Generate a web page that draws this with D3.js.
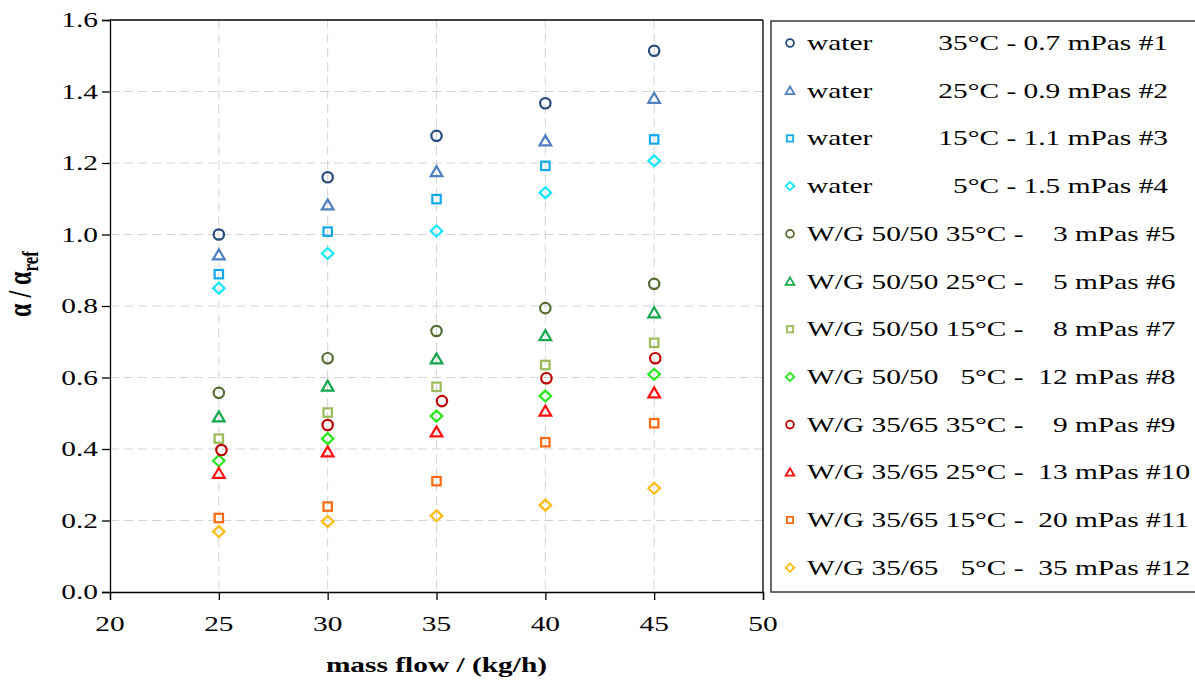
<!DOCTYPE html>
<html>
<head>
<meta charset="utf-8">
<script src="https://cdn.jsdelivr.net/npm/d3@7"></script>
<style>
  body { margin: 0; background: #fff; }
  text { font-family: "Liberation Serif", "Times New Roman", serif; fill: #000; }
</style>
</head>
<body>
<div id="chart"></div>
<script>
// data
var massFlow = [25, 30, 35, 40, 45];
var xSeries9 = [25.12, 30, 35.25, 40.05, 45.05];
var s1  = [1.000, 1.160, 1.276, 1.367, 1.514];
var s2  = [0.943, 1.083, 1.176, 1.262, 1.381];
var s3  = [0.889, 1.008, 1.099, 1.192, 1.266];
var s4  = [0.850, 0.947, 1.010, 1.117, 1.206];
var s5  = [0.557, 0.654, 0.730, 0.794, 0.862];
var s6  = [0.490, 0.576, 0.652, 0.717, 0.781];
var s7  = [0.429, 0.502, 0.574, 0.635, 0.697];
var s8  = [0.367, 0.429, 0.492, 0.548, 0.609];
var s9  = [0.397, 0.467, 0.534, 0.598, 0.654];
var s10 = [0.332, 0.392, 0.448, 0.506, 0.557];
var s11 = [0.207, 0.239, 0.310, 0.419, 0.472];
var s12 = [0.169, 0.197, 0.213, 0.243, 0.290];
var labels = [
  "water         35°C - 0.7 mPas #1",
  "water         25°C - 0.9 mPas #2",
  "water         15°C - 1.1 mPas #3",
  "water           5°C - 1.5 mPas #4",
  "W/G 50/50 35°C -    3 mPas #5",
  "W/G 50/50 25°C -    5 mPas #6",
  "W/G 50/50 15°C -    8 mPas #7",
  "W/G 50/50   5°C -  12 mPas #8",
  "W/G 35/65 35°C -    9 mPas #9",
  "W/G 35/65 25°C -  13 mPas #10",
  "W/G 35/65 15°C -  20 mPas #11",
  "W/G 35/65   5°C -  35 mPas #12"
];
var colors = ["#264a7c", "#4f7fc0", "#12a8ec", "#19e6ff", "#566a33", "#13a84e",
              "#9bbb59", "#2be51d", "#c00000", "#ff1010", "#ff6a10", "#ffbb10"];
var shapes = ["circle", "triangle", "square", "diamond", "circle", "triangle",
              "square", "diamond", "circle", "triangle", "square", "diamond"];
var xTicks = [20, 25, 30, 35, 40, 45, 50];
var yTicks = [0, 0.2, 0.4, 0.6, 0.8, 1.0, 1.2, 1.4, 1.6];

var allY = [s1, s2, s3, s4, s5, s6, s7, s8, s9, s10, s11, s12];
var series = allY.map(function(ys, i) {
  var xs = (i == 8) ? xSeries9 : massFlow;
  return ys.map(function(v, j) { return {x: xs[j], y: v, i: i}; });
});

var width = 1195, height = 682,
    plot = {left: 110, right: 763, top: 20, bottom: 592},
    stretch = 1.4, fontSize = 21;

var svg = d3.select("#chart").append("svg")
    .attr("width", width)
    .attr("height", height);

var x = d3.scaleLinear().domain([20, 50]).range([plot.left, plot.right]),
    y = d3.scaleLinear().domain([0, 1.6]).range([plot.bottom, plot.top]);

// text is stretched sideways like in the original picture
function stretchedText(parent, px, py, str, anchor, rotate) {
  var g = parent.append("g")
      .attr("transform", "translate(" + px + "," + py + ") scale(" + stretch + ",1)" + (rotate ? " rotate(" + rotate + ")" : ""));
  return g.append("text")
      .attr("text-anchor", anchor)
      .style("font-size", fontSize + "px")
      .style("white-space", "pre")
      .text(str);
}

// grid
var grid = svg.append("g").attr("stroke", "#d4d4d4").attr("stroke-dasharray", "9,5").attr("stroke-width", 1);
grid.selectAll(".hgrid").data(yTicks.slice(1, -1)).enter().append("line")
    .attr("x1", plot.left).attr("x2", plot.right)
    .attr("y1", function(d) { return y(d); }).attr("y2", function(d) { return y(d); });
grid.selectAll(".vgrid").data(xTicks.slice(1, -1)).enter().append("line")
    .attr("y1", plot.top).attr("y2", plot.bottom)
    .attr("x1", function(d) { return x(d); }).attr("x2", function(d) { return x(d); });

// axes
var xAxis = svg.append("g")
    .attr("transform", "translate(0," + plot.bottom + ")")
    .call(d3.axisBottom(x).tickValues(xTicks).tickSize(8).tickFormat(""));
var yAxis = svg.append("g")
    .attr("transform", "translate(" + plot.left + ",0)")
    .call(d3.axisLeft(y).tickValues(yTicks).tickSize(8).tickFormat(""));
svg.selectAll(".domain").attr("stroke", "#000").attr("stroke-width", 1.3);
svg.selectAll(".tick line").attr("stroke", "#000").attr("stroke-width", 1.3);

// frame
svg.append("line").attr("x1", plot.left).attr("x2", plot.right).attr("y1", plot.top).attr("y2", plot.top)
    .attr("stroke", "#000").attr("stroke-width", 1.3);
svg.append("line").attr("x1", plot.right).attr("x2", plot.right).attr("y1", plot.top).attr("y2", plot.bottom)
    .attr("stroke", "#000").attr("stroke-width", 1.3);

// tick labels
xTicks.forEach(function(t) {
  stretchedText(svg, x(t), plot.bottom + 39, String(t), "middle");
});
yTicks.forEach(function(t) {
  stretchedText(svg, plot.left - 12, y(t) + 7, d3.format(".1f")(t), "end");
});

// axis titles
stretchedText(svg, (plot.left + plot.right) / 2, 672, "mass flow / (kg/h)", "middle")
    .style("font-weight", "bold");
var yt = stretchedText(svg, 31, 284, "", "middle", -90)
    .style("font-weight", "bold")
    .style("font-size", "24px");
yt.append("tspan").text("α / α");
yt.append("tspan").attr("dy", 5).style("font-size", "17px").text("ref");

// markers
function drawMarker(sel, shape, size) {
  var s = size;
  if (shape == "circle") {
    sel.append("circle").attr("r", s * 0.52);
  } else if (shape == "triangle") {
    sel.append("path").attr("d", "M0," + (-s * 0.55) + "L" + (s * 0.58) + "," + (s * 0.45) + "L" + (-s * 0.58) + "," + (s * 0.45) + "Z");
  } else if (shape == "square") {
    sel.append("rect").attr("x", -s * 0.42).attr("y", -s * 0.42).attr("width", s * 0.84).attr("height", s * 0.84);
  } else {
    sel.append("path").attr("d", "M0," + (-s * 0.55) + "L" + (s * 0.58) + ",0L0," + (s * 0.55) + "L" + (-s * 0.58) + ",0Z");
  }
}

var points = svg.append("g");
series.forEach(function(pts, i) {
  points.selectAll(".pt" + i).data(pts).enter().append("g")
      .attr("transform", function(d) { return "translate(" + x(d.x) + "," + y(d.y) + ")"; })
      .attr("fill", "none")
      .attr("stroke", colors[i])
      .attr("stroke-width", 2.2)
      .each(function() { drawMarker(d3.select(this), shapes[i], 10); });
});

// legend
var legend = svg.append("g");
legend.append("rect")
    .attr("x", 771).attr("y", 21).attr("width", 440).attr("height", 571)
    .attr("fill", "#fff").attr("stroke", "#3a3a3a").attr("stroke-width", 1.5);
labels.forEach(function(lab, i) {
  var cy = 43 + i * 47.7;
  var m = legend.append("g")
      .attr("transform", "translate(790," + cy + ")")
      .attr("fill", "none").attr("stroke", colors[i]).attr("stroke-width", 1.8);
  drawMarker(m, shapes[i], 7.5);
  stretchedText(legend, 807, cy + 7, lab, "start");
});
</script>
</body>
</html>
